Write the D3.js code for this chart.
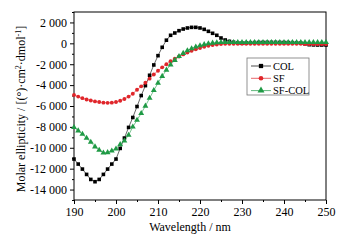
<!DOCTYPE html>
<html>
<head>
<meta charset="utf-8">
<script src="https://cdn.jsdelivr.net/npm/d3@7"></script>
<style>
  body { margin: 0; background: #fff; }
  svg text { font-family: "Liberation Serif", "Times New Roman", serif; }
</style>
</head>
<body>
<div id="chart"></div>
<script>
// wavelength in nm, one reading per nm
const wavelength = d3.range(190, 251);

const col = [
  -11080, -11560, -12040, -12550, -13030, -13250, -13030, -12550, -12040, -11560,
  -11080, -10060, -9070, -8050, -7100, -6050, -5000, -4050, -3060, -2070,
  -1180, -380, 300, 770, 990, 1210, 1370, 1470, 1530, 1530,
  1470, 1340, 1150, 960, 770, 510, 320, 190, 100, 30,
  20, 30, 50, 70, 80, 90, 90, 90, 90, 80,
  80, 70, 60, 50, 20, -50, -130, -150, -160, -160, -160
];

const sf = [
  -4950, -5100, -5250, -5380, -5480, -5560, -5620, -5680, -5700, -5680,
  -5620, -5500, -5330, -5100, -4820, -4450, -4120, -3780, -3380, -2980,
  -2620, -2300, -2000, -1720, -1480, -1260, -1060, -880, -720, -570,
  -440, -330, -240, -170, -110, -70, -50, -40, -40, -40,
  -40, -40, -40, -40, -40, -40, -40, -40, -40, -40,
  -40, -40, -40, -40, -40, -80, -80, -80, -80, -80, -80
];

const sfCol = [
  -8050, -8370, -8690, -9070, -9460, -9900, -10220, -10480, -10450, -10290,
  -10100, -9680, -9330, -8790, -8000, -7350, -6700, -6000, -5250, -4500,
  -3800, -3150, -2550, -2050, -1620, -1250, -950, -700, -500, -340,
  -210, -110, -30, 30, 70, 90, 100, 100, 100, 100,
  90, 90, 90, 100, 100, 100, 100, 90, 90, 90,
  90, 90, 100, 100, 100, 100, 100, 100, 100, 100, 100
];

const seriesNames = ["COL", "SF", "SF-COL"];
const seriesColors = ["#000000", "#e0262b", "#1f9a45"];
const seriesSymbols = [d3.symbolSquare, d3.symbolCircle, d3.symbolTriangle];
const seriesSizes = [13, 12, 15];

const xTicks = [190, 200, 210, 220, 230, 240, 250];
const yTicks = [-14000, -12000, -10000, -8000, -6000, -4000, -2000, 0, 2000];

const width = 360, height = 241;
const margin = {top: 12, right: 34, bottom: 41, left: 74};
const serif = "Liberation Serif, Times New Roman, serif";

const x = d3.scaleLinear().domain([190, 250]).range([margin.left, width - margin.right]);
const y = d3.scaleLinear().domain([-15000, 3000]).range([height - margin.bottom, margin.top]);

const svg = d3.select("#chart").append("svg")
    .attr("width", width)
    .attr("height", height)
    .attr("viewBox", [0, 0, width, height])
    .attr("font-family", serif);

const fmt = d => d3.format(",")(d).replace(/,/g, " ").replace("\u2212", "-");

// frame
svg.append("rect")
    .attr("x", x(190)).attr("y", y(3000))
    .attr("width", x(250) - x(190)).attr("height", y(-15000) - y(3000))
    .attr("fill", "none").attr("stroke", "#000").attr("stroke-width", 1);

// x axis
svg.append("g")
    .attr("transform", `translate(0,${y(-15000)})`)
    .call(d3.axisBottom(x).tickValues(xTicks).tickSize(4).tickPadding(3).tickFormat(d3.format("d")))
    .attr("font-family", serif).attr("font-size", 12)
    .call(g => g.select(".domain").remove());
svg.append("g")
    .attr("transform", `translate(0,${y(-15000)})`)
    .call(d3.axisBottom(x).tickValues(d3.range(195, 250, 10)).tickSize(2).tickFormat(""))
    .call(g => g.select(".domain").remove());

// y axis
svg.append("g")
    .attr("transform", `translate(${x(190)},0)`)
    .call(d3.axisLeft(y).tickValues(yTicks).tickSize(4).tickPadding(3).tickFormat(fmt))
    .attr("font-family", serif).attr("font-size", 12)
    .call(g => g.select(".domain").remove());
svg.append("g")
    .attr("transform", `translate(${x(190)},0)`)
    .call(d3.axisLeft(y).tickValues(d3.range(-15000, 3001, 2000)).tickSize(2).tickFormat(""))
    .call(g => g.select(".domain").remove());

// axis titles
svg.append("text")
    .attr("x", 190).attr("y", 231)
    .attr("text-anchor", "middle")
    .attr("font-size", 12)
    .text("Wavelength / nm");

const yt = svg.append("text")
    .attr("transform", `translate(25,${(y(3000) + y(-15000)) / 2 + 3}) rotate(-90)`)
    .attr("text-anchor", "middle")
    .attr("font-size", 12);
yt.append("tspan").text("Molar ellipticity / [(°)·cm");
yt.append("tspan").attr("dy", -4).attr("font-size", 8).text("2");
yt.append("tspan").attr("dy", 4).text("·dmol");
yt.append("tspan").attr("dy", -4).attr("font-size", 8).text("-1");
yt.append("tspan").attr("dy", 4).text("]");

// series
const allSeries = [col, sf, sfCol];
const line = d3.line().x((d, i) => x(wavelength[i])).y(d => y(d));

allSeries.forEach((vals, k) => {
  const g = svg.append("g");
  g.append("path")
      .datum(vals)
      .attr("fill", "none")
      .attr("stroke", seriesColors[k])
      .attr("stroke-width", 0.6)
      .attr("d", line);
  g.selectAll("path.pt")
    .data(vals)
    .join("path")
      .attr("class", "pt")
      .attr("transform", (d, i) => `translate(${x(wavelength[i])},${y(d)})`)
      .attr("d", d3.symbol(seriesSymbols[k], seriesSizes[k]))
      .attr("fill", seriesColors[k]);
});

// legend
const lg = svg.append("g").attr("transform", "translate(247,58)");
lg.append("rect")
    .attr("width", 62).attr("height", 37)
    .attr("fill", "#fff").attr("stroke", "#777").attr("stroke-width", 0.8);
seriesNames.forEach((name, k) => {
  const ly = 8 + k * 12.3;
  lg.append("line")
      .attr("x1", 4).attr("x2", 24).attr("y1", ly).attr("y2", ly)
      .attr("stroke", seriesColors[k]).attr("stroke-width", 0.7);
  lg.append("path")
      .attr("transform", `translate(14,${ly})`)
      .attr("d", d3.symbol(seriesSymbols[k], seriesSizes[k] * 1.4))
      .attr("fill", seriesColors[k]);
  lg.append("text")
      .attr("x", 26).attr("y", ly + 3.5)
      .attr("font-size", 10.5)
      .text(name);
});
</script>
</body>
</html>
